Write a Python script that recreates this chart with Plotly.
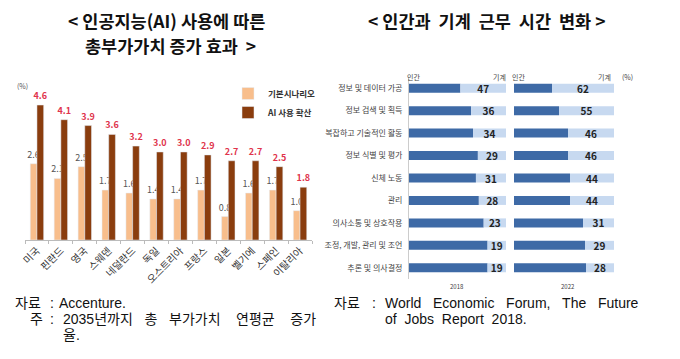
import plotly.graph_objects as go

# page body has an 8px margin; the figure is sized to fill the 680x359 window exactly
OFF = 8
W, H = 680 - OFF, 359 - OFF

# Left chart data
countries = ["미국", "핀란드", "영국", "스웨덴", "네덜란드", "독일", "오스트리아", "프랑스", "일본", "벨기에", "스페인", "이탈리아"]
base_vals = [2.6, 2.1, 2.5, 1.7, 1.6, 1.4, 1.4, 1.7, 0.8, 1.6, 1.7, 1.0]
ai_vals = [4.6, 4.1, 3.9, 3.6, 3.2, 3.0, 3.0, 2.9, 2.7, 2.7, 2.5, 1.8]

# Right chart data
tasks = ["정보 및 데이터 가공", "정보 검색 및 획득", "복잡하고 기술적인 활동", "정보 식별 및 평가",
         "신체 노동", "관리", "의사소통 및 상호작용", "조정, 개발, 관리 및 조언", "추론 및 의사결정"]
machine_2018 = [47, 36, 34, 29, 31, 28, 23, 19, 19]
machine_2022 = [62, 55, 46, 46, 44, 44, 31, 29, 28]
human_2018 = [100 - v for v in machine_2018]
human_2022 = [100 - v for v in machine_2022]

FONT = "Noto Sans CJK KR"
NOTE_FONT = "Liberation Sans, Noto Sans CJK KR"
LIGHT = "#f8be8c"
DARK = "#8a3d0e"
BLUE = "#3e6aa6"
LBLUE = "#c7d9f0"


def px(x):
    return (x - OFF) / W


def py(y):
    return 1 - (y - OFF) / H


fig = go.Figure()

fig.add_trace(go.Bar(x=countries, y=base_vals, name="<b>기본시나리오</b>", marker_color=LIGHT,
                     width=0.28, offset=-0.28,
                     text=[f"{v:.1f}" for v in base_vals], textposition="outside",
                     constraintext="none", textangle=0,
                     textfont=dict(size=9, color="#555555", family=FONT), cliponaxis=False,
                     xaxis="x", yaxis="y"))
fig.add_trace(go.Bar(x=countries, y=ai_vals, name="<b>AI 사용 확산</b>", marker_color=DARK,
                     width=0.28, offset=0,
                     text=[f"<b>{v:.1f}</b>" for v in ai_vals], textposition="outside",
                     constraintext="none", textangle=0,
                     textfont=dict(size=9, color="#e0344c", family=FONT), cliponaxis=False,
                     xaxis="x", yaxis="y"))

for hv, mv, xa in [(human_2018, machine_2018, "x2"), (human_2022, machine_2022, "x3")]:
    fig.add_trace(go.Bar(y=tasks, x=hv, orientation="h", marker_color=BLUE, showlegend=False,
                         width=0.4, offset=-0.2, marker_line_width=0,
                         xaxis=xa, yaxis="y2", hoverinfo="skip"))
    fig.add_trace(go.Bar(y=tasks, x=mv, base=hv, orientation="h", marker_color=LBLUE, showlegend=False,
                         width=0.4, offset=-0.2, marker_line_width=0,
                         text=[f"<b>{v}</b>" for v in mv], textposition="inside", insidetextanchor="middle",
                         constraintext="none", textangle=0,
                         textfont=dict(size=10, color="#222222", family=FONT),
                         xaxis=xa, yaxis="y2"))

fig.update_layout(
    width=W, height=H,
    margin=dict(l=0, r=0, t=0, b=0, autoexpand=False),
    paper_bgcolor="white", plot_bgcolor="white",
    barmode="overlay",
    font=dict(family=FONT, color="#222222"),
    showlegend=True,
    legend=dict(x=px(228), y=py(79), xanchor="left", yanchor="top",
                font=dict(size=8.5, family=FONT, color="#333333"),
                bgcolor="rgba(0,0,0,0)", itemwidth=30, tracegroupgap=0),
    xaxis=dict(domain=[px(25), px(312)], anchor="y", showline=True, linecolor="#bbbbbb",
               ticks="outside", ticklen=3, tickcolor="#bbbbbb", tickson="boundaries",
               tickangle=-45, tickfont=dict(size=10, color="#333333", family=FONT),
               showgrid=False, fixedrange=True, automargin=False),
    yaxis=dict(domain=[py(240), py(93.3)], anchor="x", range=[0, 5], visible=False, automargin=False),
    xaxis2=dict(domain=[px(409), px(506)], anchor="y2", range=[0, 100], visible=False, automargin=False),
    xaxis3=dict(domain=[px(514), px(614)], anchor="y2", range=[0, 100], visible=False, automargin=False),
    yaxis2=dict(domain=[py(279), py(77)], anchor="x2", autorange="reversed",
                showline=True, linecolor="#cccccc", showgrid=False, ticks="",
                ticklabelstandoff=4, automargin=False,
                tickfont=dict(size=8, color="#444444", family=FONT)),
)

ann = []
tf = dict(size=17.5, family=FONT, color="#111111")
ann.append(dict(x=px(166), y=py(21), text="<b>< 인공지능(AI) 사용에 따른</b>", showarrow=False,
                font=tf, xanchor="center", yanchor="middle"))
ann.append(dict(x=px(170), y=py(46), text="<b>총부가가치 증가 효과  ></b>", showarrow=False,
                font=tf, xanchor="center", yanchor="middle"))
ann.append(dict(x=px(486), y=py(21), text="<b>< 인간과  기계  근무  시간  변화 ></b>", showarrow=False,
                font=tf, xanchor="center", yanchor="middle"))
ann.append(dict(x=px(22), y=py(86), text="(%)", showarrow=False,
                font=dict(size=7, family=FONT, color="#555555"), xanchor="center", yanchor="middle"))
# right chart small labels
for xl, t in [(413, "인간"), (500, "기계"), (518, "인간"), (604, "기계"), (627, "(%)")]:
    ann.append(dict(x=px(xl), y=py(77), text=t, showarrow=False,
                    font=dict(size=7, family=FONT, color="#444444"), xanchor="center", yanchor="middle"))
for xl, t in [(457, "2018"), (568, "2022")]:
    ann.append(dict(x=px(xl), y=py(286), text=t, showarrow=False,
                    font=dict(size=6, family=FONT, color="#444444"), xanchor="center", yanchor="middle"))

# footnotes
NB = "\u00a0"
fn = dict(size=14, family=NOTE_FONT, color="#111111")
notes = [
    (13, 303, "자료"), (48, 303, ":"), (57, 303, "Accenture."),
    (28, 319, "주"), (48, 319, ":"),
    (61, 319, "2035년까지" + NB * 3 + "총" + NB * 3 + "부가가치" + NB * 4 + "연평균" + NB * 4 + "증가"),
    (61, 335, "율."),
    (332, 303, "자료"), (370, 303, ":"),
    (383, 303, "World" + NB * 3 + "Economic" + NB * 3 + "Forum," + NB * 3 + "The" + NB * 3 + "Future"),
    (383, 319, "of" + NB * 2 + "Jobs" + NB * 2 + "Report" + NB * 2 + "2018."),
]
for xl, yl, t in notes:
    ann.append(dict(x=px(xl), y=py(yl), text=t, showarrow=False, font=fn,
                    xanchor="left", yanchor="middle"))

for a in ann:
    a.update(xref="paper", yref="paper")
fig.update_layout(annotations=ann)

fig.write_html("out.html")
